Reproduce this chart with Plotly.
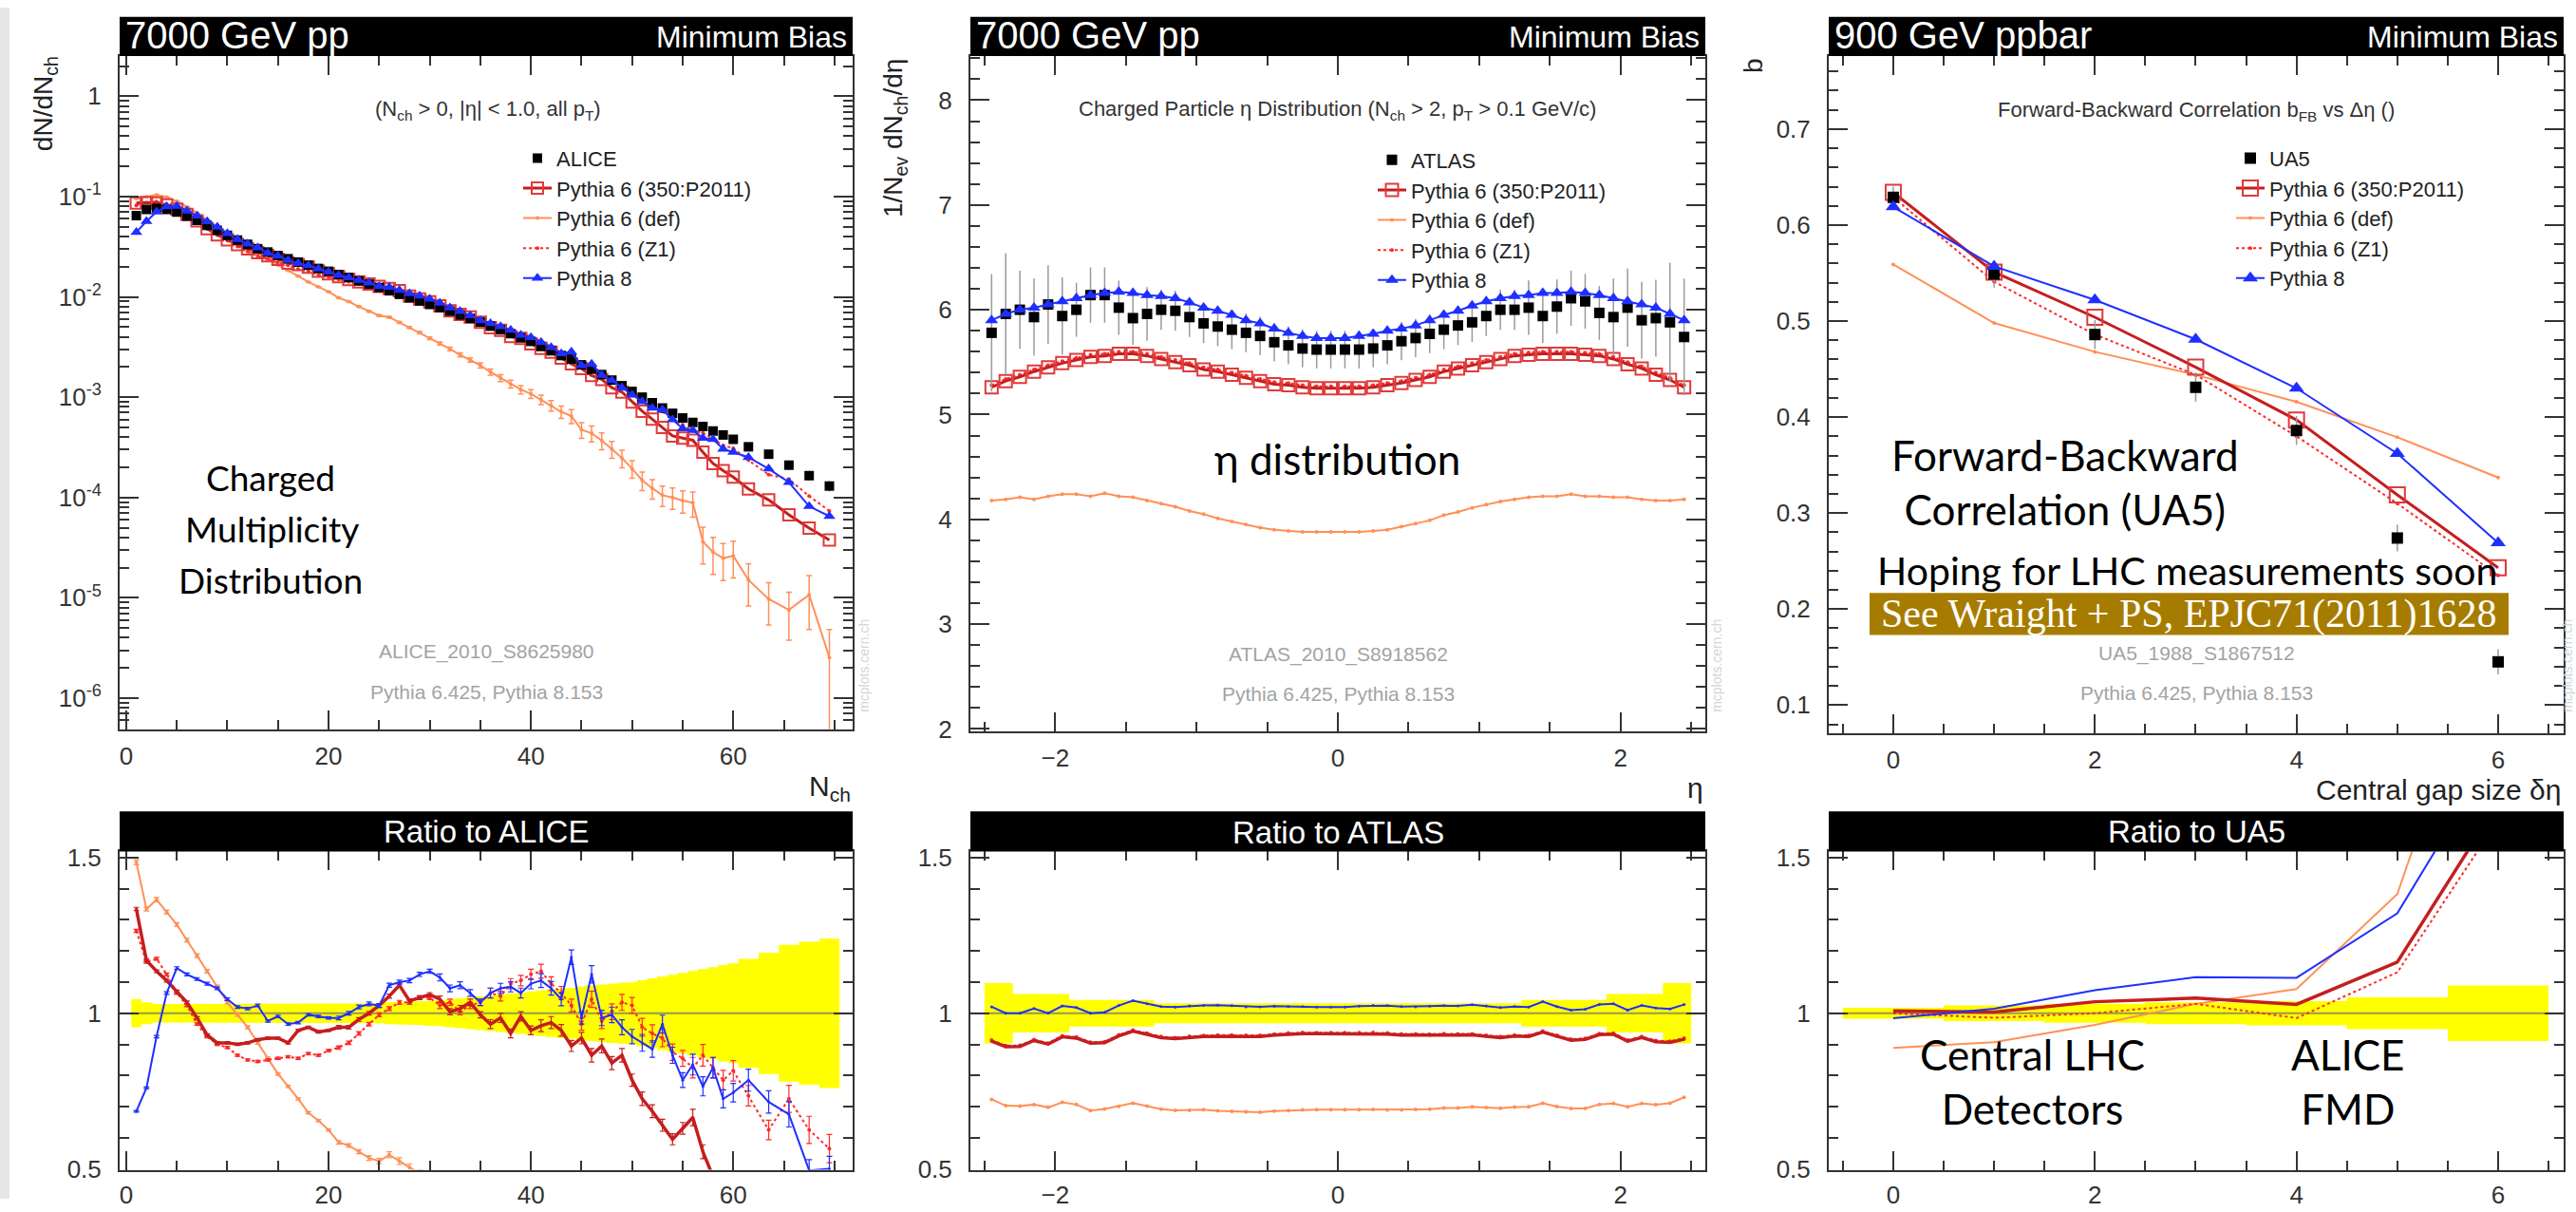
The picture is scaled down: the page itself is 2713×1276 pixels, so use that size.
import plotly.graph_objects as go

W, H = 2713, 1276
SANS = "Liberation Sans, Arial, sans-serif"
HUM = "Lato, Open Sans, sans-serif"
SERIF = "Liberation Serif, Times New Roman, serif"


def px(x):
    return x / W


def py(y):
    return 1 - y / H


# ---------------- Panel 1 : charged multiplicity (ALICE) ----------------
nch = list(range(1, 61)) + [61.5, 63.5, 65.5, 67.5, 69.5]
nch_halfwidth = [0.5] * 60 + [1.0] * 5
alice = [0.0645, 0.0745, 0.0760, 0.0745, 0.0700, 0.0640, 0.0580, 0.0515, 0.0460, 0.0410,
         0.0368, 0.0333, 0.0302, 0.0280, 0.0258, 0.0240, 0.0222, 0.0207, 0.0192, 0.0180,
         0.0167, 0.0156, 0.0144, 0.0134, 0.0124, 0.0115, 0.0106, 0.0098, 0.0091, 0.0084,
         0.0078, 0.0072, 0.0066, 0.0061, 0.0056, 0.0051, 0.0047, 0.0043, 0.0039, 0.0036,
         0.0032, 0.0029, 0.0026, 0.0024, 0.0021, 0.0019, 0.00168, 0.00148, 0.00130, 0.00114,
         0.00100, 0.00088, 0.00078, 0.00069, 0.00062, 0.00056, 0.00051, 0.00046, 0.00042, 0.00038,
         0.00032, 0.00027, 0.00021, 0.000165, 0.000130]
alice_relerr = [0.045, 0.035, 0.03, 0.03, 0.03, 0.03, 0.03, 0.03, 0.03, 0.03,
                0.03, 0.03, 0.03, 0.03, 0.03, 0.03, 0.03, 0.03, 0.03, 0.03,
                0.032, 0.032, 0.032, 0.032, 0.032, 0.035, 0.036, 0.037, 0.038, 0.04,
                0.042, 0.045, 0.048, 0.051, 0.054, 0.057, 0.06, 0.063, 0.066, 0.07,
                0.073, 0.076, 0.079, 0.082, 0.086, 0.089, 0.092, 0.095, 0.098, 0.10,
                0.106, 0.112, 0.118, 0.124, 0.13, 0.136, 0.142, 0.148, 0.155, 0.16,
                0.175, 0.195, 0.22, 0.23, 0.24]
ratio_p8 = [0.685, 0.76, 0.925, 1.065, 1.145, 1.125, 1.11, 1.095, 1.08, 1.045,
            1.02, 1.015, 1.025, 0.975, 0.99, 0.965, 0.97, 0.995, 0.99, 0.985,
            0.985, 1.0, 1.02, 1.03, 1.025, 1.09, 1.10, 1.105, 1.125, 1.135,
            1.115, 1.08, 1.09, 1.065, 1.035, 1.065, 1.08, 1.085, 1.065, 1.095,
            1.105, 1.08, 1.045, 1.18, 0.985, 1.125, 0.985, 0.995, 0.955, 0.925,
            0.905, 0.885, 0.965, 0.865, 0.785, 0.835, 0.765, 0.825, 0.725, 0.745,
            0.785, 0.715, 0.675, 0.495, 0.50]
ratio_p6_350 = [1.335, 1.17, 1.135, 1.105, 1.07, 1.035, 0.985, 0.93, 0.905, 0.905,
                0.90, 0.905, 0.915, 0.92, 0.92, 0.905, 0.945, 0.955, 0.94, 0.945,
                0.955, 0.955, 0.98, 1.0, 1.025, 1.055, 1.09, 1.04, 1.05, 1.06,
                1.045, 1.005, 1.015, 1.035, 0.995, 0.965, 0.985, 0.935, 0.99, 0.945,
                0.96, 0.97, 0.945, 0.895, 0.92, 0.865, 0.895, 0.84, 0.865, 0.785,
                0.725, 0.685, 0.64, 0.595, 0.63, 0.665, 0.555, 0.475, 0.44, 0.42,
                0.38, 0.35, 0.32, 0.30, 0.29]
ratio_z1 = [1.265, 1.165, 1.175, 1.125, 1.065, 1.025, 0.965, 0.925, 0.90, 0.89,
            0.865, 0.85, 0.845, 0.85, 0.855, 0.86, 0.855, 0.87, 0.865, 0.88,
            0.89, 0.905, 0.935, 0.965, 0.995, 1.015, 1.035, 1.035, 1.05, 1.05,
            1.025, 1.035, 1.005, 1.025, 1.035, 1.065, 1.055, 1.095, 1.105, 1.125,
            1.135, 1.095, 1.065, 1.025, 0.965, 1.045, 0.975, 1.005, 1.035, 1.025,
            0.955, 0.935, 0.92, 0.875, 0.855, 0.825, 0.865, 0.825, 0.785, 0.815,
            0.735, 0.625, 0.725, 0.625, 0.565]
ratio_def = [1.485, 1.335, 1.365, 1.325, 1.285, 1.235, 1.185, 1.135, 1.085, 1.035,
             0.995, 0.955, 0.905, 0.855, 0.805, 0.765, 0.725, 0.68, 0.655, 0.625,
             0.585, 0.575, 0.555, 0.535, 0.525, 0.545, 0.525, 0.505, 0.485, 0.46,
             0.44, 0.42, 0.40, 0.385, 0.37, 0.35, 0.33, 0.315, 0.305, 0.30,
             0.295, 0.285, 0.275, 0.27, 0.225, 0.23, 0.22, 0.205, 0.19, 0.17,
             0.148, 0.14, 0.135, 0.145, 0.150, 0.158, 0.071, 0.062, 0.059, 0.069,
             0.047, 0.036, 0.036, 0.065, 0.0195]
mc_relerr = [0.004] * 20 + [0.006] * 10 + [0.01] * 5 + [0.015] * 5 + [0.02] * 5 + \
            [0.025] * 5 + [0.03] * 5 + [0.04] * 5 + [0.045, 0.05, 0.06, 0.07, 0.08]
def_relerr = [0.005] * 20 + [0.01, 0.01, 0.012, 0.014, 0.016, 0.018, 0.02, 0.022, 0.025, 0.03,
                             0.035, 0.04, 0.045, 0.05, 0.06, 0.07, 0.08, 0.09, 0.095, 0.10,
                             0.11, 0.12, 0.14, 0.16, 0.18, 0.18, 0.19, 0.19, 0.20, 0.20,
                             0.21, 0.22, 0.23, 0.24, 0.25, 0.28, 0.40, 0.40, 0.40, 0.40,
                             0.45, 0.45, 0.50, 0.55, 0.90]

# ---------------- Panel 2 : eta distribution (ATLAS) ----------------
eta = [-2.45, -2.35, -2.25, -2.15, -2.05, -1.95, -1.85, -1.75, -1.65, -1.55,
       -1.45, -1.35, -1.25, -1.15, -1.05, -0.95, -0.85, -0.75, -0.65, -0.55,
       -0.45, -0.35, -0.25, -0.15, -0.05, 0.05, 0.15, 0.25, 0.35, 0.45,
       0.55, 0.65, 0.75, 0.85, 0.95, 1.05, 1.15, 1.25, 1.35, 1.45,
       1.55, 1.65, 1.75, 1.85, 1.95, 2.05, 2.15, 2.25, 2.35, 2.45]
atlas = [5.78, 5.96, 6.00, 5.93, 6.05, 5.94, 6.00, 6.14, 6.14, 6.02,
         5.92, 5.96, 6.00, 5.99, 5.93, 5.87, 5.84, 5.81, 5.78, 5.75,
         5.69, 5.66, 5.63, 5.62, 5.62, 5.62, 5.62, 5.63, 5.66, 5.70,
         5.73, 5.77, 5.81, 5.85, 5.88, 5.94, 6.00, 6.00, 6.02, 5.94,
         6.03, 6.11, 6.08, 5.97, 5.93, 6.02, 5.90, 5.92, 5.88, 5.74]
atlas_relerr = [0.097, 0.097, 0.062, 0.062, 0.062, 0.062, 0.043, 0.043, 0.043, 0.043,
                0.043, 0.043, 0.032, 0.032, 0.032, 0.032, 0.032, 0.032, 0.032, 0.032,
                0.032, 0.032, 0.032, 0.032, 0.032, 0.032, 0.032, 0.032, 0.032, 0.032,
                0.032, 0.032, 0.032, 0.032, 0.032, 0.032, 0.032, 0.032, 0.043, 0.043,
                0.043, 0.043, 0.043, 0.043, 0.062, 0.062, 0.062, 0.062, 0.097, 0.097]
p8_eta = [5.90, 5.96, 6.00, 6.02, 6.05, 6.08, 6.11, 6.14, 6.16, 6.17,
          6.16, 6.14, 6.13, 6.11, 6.07, 6.02, 5.99, 5.95, 5.90, 5.87,
          5.82, 5.78, 5.75, 5.73, 5.73, 5.73, 5.75, 5.77, 5.80, 5.82,
          5.85, 5.90, 5.95, 5.99, 6.04, 6.08, 6.11, 6.13, 6.14, 6.16,
          6.16, 6.17, 6.16, 6.14, 6.11, 6.08, 6.05, 6.02, 5.96, 5.90]
p6_350_eta = [5.26, 5.32, 5.36, 5.41, 5.45, 5.49, 5.52, 5.55, 5.56, 5.58,
              5.58, 5.56, 5.53, 5.50, 5.47, 5.43, 5.41, 5.38, 5.35, 5.32,
              5.29, 5.28, 5.26, 5.25, 5.25, 5.25, 5.25, 5.26, 5.28, 5.30,
              5.33, 5.36, 5.41, 5.44, 5.47, 5.50, 5.53, 5.56, 5.57, 5.58,
              5.58, 5.58, 5.57, 5.56, 5.53, 5.48, 5.44, 5.38, 5.33, 5.26]
z1_eta = [5.28, 5.34, 5.38, 5.43, 5.47, 5.51, 5.54, 5.57, 5.58, 5.60,
          5.60, 5.58, 5.55, 5.52, 5.49, 5.45, 5.43, 5.40, 5.37, 5.34,
          5.31, 5.30, 5.28, 5.27, 5.27, 5.27, 5.27, 5.28, 5.30, 5.32,
          5.35, 5.38, 5.43, 5.46, 5.49, 5.52, 5.55, 5.58, 5.59, 5.60,
          5.60, 5.60, 5.59, 5.58, 5.55, 5.50, 5.46, 5.40, 5.35, 5.28]
def_eta = [4.18, 4.19, 4.21, 4.19, 4.22, 4.24, 4.24, 4.22, 4.25, 4.22,
           4.21, 4.18, 4.15, 4.12, 4.08, 4.05, 4.01, 3.98, 3.95, 3.92,
           3.90, 3.89, 3.88, 3.88, 3.88, 3.88, 3.88, 3.89, 3.90, 3.93,
           3.96, 3.99, 4.04, 4.07, 4.11, 4.14, 4.17, 4.19, 4.21, 4.22,
           4.22, 4.24, 4.22, 4.22, 4.21, 4.21, 4.19, 4.18, 4.18, 4.19]
eta_halfwidth = [0.05] * 50

# ---------------- Panel 3 : forward-backward correlation (UA5) ----------------
gap = [0, 1, 2, 3, 4, 5, 6]
gap_halfwidth = [0.5] * 7
ua5 = [0.629, 0.549, 0.486, 0.431, 0.386, 0.274, 0.145]
ua5_err = [0.011, 0.014, 0.015, 0.015, 0.015, 0.014, 0.013]
p6_350_fb = [0.634, 0.551, 0.504, 0.452, 0.397, 0.319, 0.243]
def_fb = [0.559, 0.498, 0.468, 0.444, 0.416, 0.379, 0.337]
z1_fb = [0.629, 0.541, 0.486, 0.444, 0.380, 0.310, 0.235]
p8_fb = [0.619, 0.557, 0.522, 0.481, 0.430, 0.362, 0.269]

# ---------------- styles ----------------
C_350 = "#c41e1e"
C_350M = "#e03a3a"
C_DEF = "#ff9058"
C_Z1 = "#ff2a2a"
C_P8 = "#1f2fff"
C_DATA_ERR = "#9a9a9a"

NAMES = ["Pythia 6 (350:P2011)", "Pythia 6 (def)", "Pythia 6 (Z1)", "Pythia 8"]

fig = go.Figure()


def band_poly(xc, hw, rel):
    xs, yu, yl = [], [], []
    for x, h, r in zip(xc, hw, rel):
        xs += [x - h, x + h]
        yu += [1 + r, 1 + r]
        yl += [1 - r, 1 - r]
    return xs + xs[::-1], yu + yl[::-1]


def add_panel(xa_top, ya_top, xa_bot, ya_bot, legend, x, data, data_relerr, data_err,
              data_name, mc, ratio, hw, xr, sizes, ratio_err=None, top_err=None, ratio_markers=True):
    s_sq, s_open, s_tri = sizes
    p350, pdef, pz1, p8 = mc
    fig.add_trace(go.Scatter(x=x, y=pdef, mode="lines+markers", name=NAMES[1], legend=legend,
                             legendrank=3, xaxis=xa_top, yaxis=ya_top,
                             line=dict(color=C_DEF, width=2), marker=dict(size=4, color=C_DEF),
                             error_y=(dict(type="data", array=top_err, color=C_DEF, thickness=1.5, width=3)
                                      if top_err is not None else None)))
    fig.add_trace(go.Scatter(x=x, y=pz1, mode="lines+markers", name=NAMES[2], legend=legend,
                             legendrank=4, xaxis=xa_top, yaxis=ya_top,
                             line=dict(color=C_Z1, width=2, dash="dot"), marker=dict(size=4, color=C_Z1)))
    fig.add_trace(go.Scatter(x=x, y=p350, mode="lines+markers", name=NAMES[0], legend=legend,
                             legendrank=2, xaxis=xa_top, yaxis=ya_top,
                             line=dict(color=C_350, width=3),
                             marker=dict(symbol="square-open", size=s_open, color=C_350M,
                                         line=dict(width=2, color=C_350M))))
    fig.add_trace(go.Scatter(x=x, y=data, mode="markers", name=data_name, legend=legend,
                             legendrank=1, xaxis=xa_top, yaxis=ya_top,
                             marker=dict(symbol="square", size=s_sq, color="black"),
                             error_y=dict(type="data", array=data_err, color=C_DATA_ERR,
                                          thickness=1.5, width=0)))
    fig.add_trace(go.Scatter(x=x, y=p8, mode="lines+markers", name=NAMES[3], legend=legend,
                             legendrank=5, xaxis=xa_top, yaxis=ya_top,
                             line=dict(color=C_P8, width=2),
                             marker=dict(symbol="triangle-up", size=s_tri, color=C_P8)))
    # ratio panel
    bx, by = band_poly(x, hw, data_relerr)
    fig.add_trace(go.Scatter(x=bx, y=by, fill="toself", fillcolor="#ffff00", mode="lines",
                             line=dict(width=0, color="#ffff00"), showlegend=False,
                             hoverinfo="skip", xaxis=xa_bot, yaxis=ya_bot))
    fig.add_trace(go.Scatter(x=xr, y=[1, 1], mode="lines", line=dict(color="rgba(110,110,110,0.7)", width=2),
                             showlegend=False, hoverinfo="skip", xaxis=xa_bot, yaxis=ya_bot))
    r350, rdef, rz1, rp8 = ratio
    mk = "lines+markers" if ratio_markers else "lines"
    errs = ratio_err if ratio_err else [None] * 4
    specs = [(rdef, C_DEF, 2, "solid", 4, errs[1]), (rz1, C_Z1, 2, "dot", 4, errs[2]),
             (r350, C_350, 3.5, "solid", 3, errs[0]), (rp8, C_P8, 2, "solid", 3, errs[3])]
    for yy, col, wd, dash, ms, ee in specs:
        fig.add_trace(go.Scatter(x=x, y=yy, mode=mk, showlegend=False, xaxis=xa_bot, yaxis=ya_bot,
                                 line=dict(color=col, width=wd, dash=dash), marker=dict(size=ms, color=col),
                                 error_y=(dict(type="data", array=ee, color=col, thickness=1.2, width=3)
                                          if ee is not None else None)))


# Panel 1
p1_mc = [[a * r for a, r in zip(alice, rr)] for rr in (ratio_p6_350, ratio_def, ratio_z1, ratio_p8)]
p1_def_err = [v * e for v, e in zip(p1_mc[1], def_relerr)]
p1_ratio_err = [[r * e for r, e in zip(rr, mc_relerr)] for rr in (ratio_p6_350, ratio_def, ratio_z1, ratio_p8)]
p1_ratio_err[1] = [r * e for r, e in zip(ratio_def, def_relerr)]
add_panel("x", "y", "x2", "y2", "legend", nch, alice, alice_relerr,
          [a * e * 0.5 for a, e in zip(alice, alice_relerr)], "ALICE",
          p1_mc, [ratio_p6_350, ratio_def, ratio_z1, ratio_p8], nch_halfwidth, [-0.65, 71.8],
          (10, 12, 11), ratio_err=p1_ratio_err, top_err=p1_def_err)

# Panel 2
p2_mc = [p6_350_eta, def_eta, z1_eta, p8_eta]
p2_ratio = [[m / d for m, d in zip(mm, atlas)] for mm in p2_mc]
add_panel("x3", "y3", "x4", "y4", "legend2", eta, atlas, atlas_relerr,
          [a * e for a, e in zip(atlas, atlas_relerr)], "ATLAS",
          p2_mc, p2_ratio, eta_halfwidth, [-2.6, 2.6], (11, 13, 12))

# Panel 3
p3_mc = [p6_350_fb, def_fb, z1_fb, p8_fb]
p3_ratio = [[m / d for m, d in zip(mm, ua5)] for mm in p3_mc]
add_panel("x5", "y5", "x6", "y6", "legend3", gap, ua5, [e / v for e, v in zip(ua5_err, ua5)],
          ua5_err, "UA5", p3_mc, p3_ratio, gap_halfwidth, [-0.64, 6.65], (12, 16, 14),
          ratio_markers=False)

# ---------------- axes ----------------
TICKFONT = dict(family=SANS, size=26, color="#333")


def axis(domain, rng, anchor, dtick=None, tick0=None, minor_dtick=None, **kw):
    d = dict(domain=domain, range=rng, anchor=anchor, showline=True, linecolor="#333", linewidth=2,
             mirror="ticks", ticks="inside", ticklen=20, tickwidth=2, tickcolor="#333",
             showgrid=False, zeroline=False, tickfont=TICKFONT, fixedrange=True)
    if dtick is not None:
        d["dtick"] = dtick
    if tick0 is not None:
        d["tick0"] = tick0
    if minor_dtick is not None:
        d["minor"] = dict(dtick=minor_dtick, ticks="inside", ticklen=10, tickwidth=2, tickcolor="#333")
    d.update(kw)
    return d


X1 = [px(126), px(898)]
X2 = [px(1022), px(1796)]
X3 = [px(1926), px(2700)]
YTOP1 = [py(773), py(52)]
YTOP2 = [py(775), py(52)]
YTOP3 = [py(777), py(52)]
YBOT = [py(1245), py(904)]

log_major = [1e-6, 1e-5, 1e-4, 1e-3, 1e-2, 1e-1, 1]
log_text = ["10<sup>-6</sup>", "10<sup>-5</sup>", "10<sup>-4</sup>", "10<sup>-3</sup>",
            "10<sup>-2</sup>", "10<sup>-1</sup>", "1"]
log_minor = [m * 10.0 ** e for e in range(-7, 1) for m in range(2, 10)]

ratio_y = dict(tickvals=[0.5, 1, 1.5], ticktext=["0.5", "1", "1.5"], ticklabelstandoff=12)

fig.update_layout(
    xaxis=axis(X1, [-0.65, 71.8], "y", 20, 0, 5, ticklabelstandoff=4),
    yaxis=axis(YTOP1, [-6.31, 0.40], "x", type="log", tickvals=log_major, ticktext=log_text,
               minor=dict(tickvals=log_minor, ticks="inside", ticklen=10, tickwidth=2, tickcolor="#333"),
               ticklabelstandoff=12),
    xaxis2=axis(X1, [-0.65, 71.8], "y2", 20, 0, 5, ticklabelstandoff=2),
    yaxis2=axis(YBOT, [0.497, 1.52], "x2", None, None, 0.1, **ratio_y),
    xaxis3=axis(X2, [-2.6, 2.6], "y3", 2, 0, 0.5, ticklabelstandoff=4),
    yaxis3=axis(YTOP2, [1.98, 8.42], "x3", 1, 0, 0.2, ticklabelstandoff=12),
    xaxis4=axis(X2, [-2.6, 2.6], "y4", 2, 0, 0.5, ticklabelstandoff=2),
    yaxis4=axis(YBOT, [0.497, 1.52], "x4", None, None, 0.1, **ratio_y),
    xaxis5=axis(X3, [-0.64, 6.65], "y5", 2, 0, 0.5, ticklabelstandoff=4),
    yaxis5=axis(YTOP3, [0.071, 0.776], "x5", 0.1, 0.1, 0.02, ticklabelstandoff=12),
    xaxis6=axis(X3, [-0.64, 6.65], "y6", 2, 0, 0.5, ticklabelstandoff=2),
    yaxis6=axis(YBOT, [0.497, 1.52], "x6", None, None, 0.1, **ratio_y),
)


# ---------------- legends ----------------
def legend_at(xl, yt):
    return dict(x=px(xl), y=py(yt), xanchor="left", yanchor="top", bgcolor="rgba(0,0,0,0)",
                font=dict(family=SANS, size=22, color="#222"), tracegroupgap=0, itemwidth=30,
                traceorder="normal")


fig.update_layout(legend=legend_at(546, 140), legend2=legend_at(1446, 142), legend3=legend_at(2350, 140))

# ---------------- decorations ----------------
shapes = []
annotations = []


def header(x0, x1, y0, y1):
    shapes.append(dict(type="rect", xref="paper", yref="paper", x0=px(x0), x1=px(x1), y0=py(y1), y1=py(y0),
                       fillcolor="black", line=dict(width=0), layer="above"))


def ann(text, x, y, size, color="black", xanchor="center", yanchor="middle", family=SANS, angle=0):
    annotations.append(dict(text=text, x=px(x), y=py(y), xref="paper", yref="paper", showarrow=False,
                            xanchor=xanchor, yanchor=yanchor, textangle=angle,
                            font=dict(family=family, size=size, color=color)))


# left gray page strip
shapes.append(dict(type="rect", xref="paper", yref="paper", x0=0, x1=px(10), y0=0, y1=1,
                   fillcolor="#e6e6e6", line=dict(width=0), layer="below"))

for (x0, x1) in [(126, 898), (1022, 1796), (1926, 2700)]:
    header(x0, x1, 10, 52)
    header(x0, x1, 861, 904)

# header texts
ann("7000 GeV pp", 130, 30, 40, "white", "left")
ann("Minimum Bias", 894, 32, 32, "white", "right")
ann("7000 GeV pp", 1026, 30, 40, "white", "left")
ann("Minimum Bias", 1792, 32, 32, "white", "right")
ann("900 GeV ppbar", 1930, 30, 40, "white", "left")
ann("Minimum Bias", 2696, 32, 32, "white", "right")
ann("Ratio to ALICE", 512, 883, 33, "white")
ann("Ratio to ATLAS", 1409, 884, 33, "white")
ann("Ratio to UA5", 2313, 883, 33, "white")

# subtitles
ann("(N<sub>ch</sub> > 0, |η| < 1.0, all p<sub>T</sub>)", 514, 110, 22, "#333")
ann("Charged Particle η Distribution (N<sub>ch</sub> > 2, p<sub>T</sub> > 0.1 GeV/c)", 1408, 110, 22, "#333")
ann("Forward-Backward Correlation b<sub>FB</sub> vs Δη ()", 2313, 111, 22, "#333")

# analysis tags
GRAY = "#a3a3a3"
ann("ALICE_2010_S8625980", 512, 690, 21, GRAY)
ann("Pythia 6.425, Pythia 8.153", 512, 733, 21, GRAY)
ann("ATLAS_2010_S8918562", 1409, 693, 21, GRAY)
ann("Pythia 6.425, Pythia 8.153", 1409, 735, 21, GRAY)
ann("UA5_1988_S1867512", 2313, 692, 21, GRAY)
ann("Pythia 6.425, Pythia 8.153", 2313, 734, 21, GRAY)

# watermarks
for xw in (910, 1808, 2704):
    ann("mcplots.cern.ch", xw, 705, 14, "#d4d4d4", angle=-90)

# axis titles
ann("dN/dN<sub>ch</sub>", 47, 50, 28, "#222", yanchor="top", angle=-90)
ann("1/N<sub>ev</sub> dN<sub>ch</sub>/dη", 942, 52, 28, "#222", yanchor="top", angle=-90)
ann("b", 1846, 52, 28, "#222", yanchor="top", angle=-90)
ann("N<sub>ch</sub>", 898, 836, 30, "#222", "right")
ann("η", 1796, 836, 30, "#222", "right")
ann("Central gap size δη", 2700, 838, 30, "#222", "right")

# slide annotations
ann("Charged", 285, 503, 37, "black", family=HUM)
ann("Multiplicity", 286, 558, 37, "black", family=HUM)
ann("Distribution", 285, 613, 37, "black", family=HUM)
ann("η distribution", 1408, 483, 44, "black", family=HUM)
ann("Forward-Backward<br>Correlation (UA5)", 2175, 508, 44, "black", family=HUM)
ann("Hoping for LHC measurements soon", 2303, 603, 41, "black", family=HUM)
shapes.append(dict(type="rect", xref="paper", yref="paper", x0=px(1969), x1=px(2642), y0=py(672), y1=py(627),
                   fillcolor="#a67c00", line=dict(width=0), layer="above"))
ann("See Wraight + PS, EPJC71(2011)1628", 2305, 650, 42, "white", family=SERIF)
ann("Central LHC<br>Detectors", 2140, 1150, 44, "black", family=HUM)
ann("ALICE<br>FMD", 2473, 1150, 44, "black", family=HUM)

fig.update_layout(shapes=shapes, annotations=annotations, width=W, height=H, autosize=False,
                  margin=dict(l=0, r=0, t=0, b=0), paper_bgcolor="white", plot_bgcolor="white",
                  showlegend=True, font=dict(family=SANS))

fig.write_html("out.html", config={"displayModeBar": False})
